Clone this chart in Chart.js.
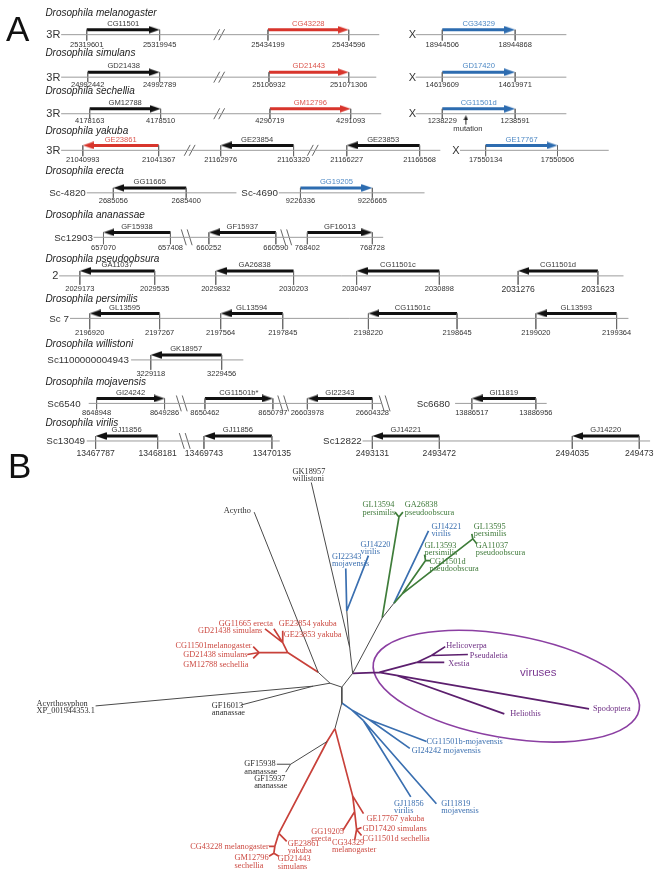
<!DOCTYPE html>
<html>
<head>
<meta charset="utf-8">
<script src="https://cdn.jsdelivr.net/npm/chart.js@4.4.1/dist/chart.umd.min.js"></script>
<style>
html,body{margin:0;padding:0;background:#ffffff;overflow:hidden;}
#wrap{position:relative;width:661px;height:877px;}
canvas{display:block;}
</style>
</head>
<body>
<div id="wrap"><canvas id="fig" width="661" height="877"></canvas></div>
<script>
// ================= DATA : panel A (gene maps) =================
const species = ['Drosophila melanogaster','Drosophila simulans','Drosophila sechellia','Drosophila yakuba','Drosophila erecta','Drosophila ananassae','Drosophila pseudoobsura','Drosophila persimilis','Drosophila willistoni','Drosophila mojavensis','Drosophila virilis'];

const scaffoldRow  = [0,0,1,1,2,2,3,3,4,4,5,6,7,8,9,9,10,10];
const scaffoldName = ['3R','X','3R','X','3R','X','3R','X','Sc-4820','Sc-4690','Sc12903','2','Sc 7','Sc1100000004943','Sc6540','Sc6680','Sc13049','Sc12822'];

const geneRow    = [0,0,0, 1,1,1, 2,2,2, 3,3,3,3, 4,4, 5,5,5, 6,6,6,6, 7,7,7,7, 8, 9,9,9,9, 10,10,10,10];
const geneName   = ['CG11501','CG43228','CG34329','GD21438','GD21443','GD17420','GM12788','GM12796','CG11501d','GE23861','GE23854','GE23853','GE17767','GG11665','GG19205','GF15938','GF15937','GF16013','GA11037','GA26838','CG11501c','CG11501d','GL13595','GL13594','CG11501c','GL13593','GK18957','GI24242','CG11501b*','GI22343','GI11819','GJ11856','GJ11856','GJ14221','GJ14220'];
const geneStart  = [25319601,25434199,18944506,24992442,25106932,14619609,4178163,4290719,1238229,21040993,21162976,21166227,17550134,2685056,9226336,657070,660252,768402,2029173,2029832,2030497,2031276,2196920,2197564,2198220,2199020,3229118,8648948,8650462,26603978,13886517,13467787,13469743,2493131,2494035];
const geneEnd    = [25319945,25434596,18944868,24992789,251071306,14619971,4178510,4291093,1238591,21041367,21163320,21166568,17550506,2685400,9226665,657408,660590,768728,2029535,2030203,2030898,2031623,2197267,2197845,2198645,2199364,3229456,8649286,8650797,26604328,13886956,13468181,13470135,2493472,249473];
const geneStrand = [1,1,1, 1,1,1, 1,1,1, -1,-1,-1,1, -1,1, -1,-1,1, -1,-1,-1,-1, -1,-1,-1,-1, -1, 1,1,-1,-1, -1,-1,-1,-1];
const geneGroup  = ['k','r','b','k','r','b','k','r','b','r','k','k','b','k','b','k','k','k','k','k','k','k','k','k','k','k','k','k','k','k','k','k','k','k','k'];

// ================= DATA : panel B (tree) =================
const treeLabelText  = ['GK18957\nwillistoni','Acyrtho','Acyrthosyphon\nXP_001944353.1','GF16013\nananassae','GF15938\nananassae','GF15937\nananassae',
  'GG11665 erecta','GD21438 simulans','GE23854 yakuba','GE23853 yakuba','CG11501melanogaster','GD21438 simulans','GM12788 sechellia',
  'CG43228 melanogaster','GE23861\nyakuba','GM12796\nsechellia','GD21443\nsimulans','GG19205\nerecta','CG34329\nmelanogaster','GE17767 yakuba','GD17420 simulans','CG11501d sechellia',
  'GL13594\npersimilis','GA26838\npseudoobscura','GL13595\npersimilis','GL13593\npersimilis','GA11037\npseudoobscura','CG11501d\npseudoobscura',
  'GJ14221\nvirilis','GJ14220\nvirilis','GI22343\nmojavensis','CG11501b-mojavensis','GI24242 mojavensis','GJ11856\nvirilis','GI11819\nmojavensis',
  'Helicoverpa','Pseudaletia','Xestia','Heliothis','Spodoptera'];
const treeLabelClade = ['g','g','g','g','g','g', 'r','r','r','r','r','r','r', 'r','r','r','r','r','r','r','r','r', 'e','e','e','e','e','e', 'b','b','b','b','b','b','b', 'p','p','p','p','p'];

// tree branches (unrooted layout, plot units) per clade colour
const branchGray = [[311,483,350,650],[350,650,353,676],[347,613,350,650],[353,676,383,620],[383,620,395,605],[353,676,342,690],[342,690,330,686],[330,686,318,675],[318,675,253,513],[330,686,313,689],[313,689,92,709],[313,689,240,708],[342,690,342,706],[342,706,335,732],[327,745,290,768],[290,768,276,768],[290,768,285,776]];
const branchRed = [[318,675,287,655],[287,655,258,655],[258,655,252,649],[258,655,246,657],[258,655,252,661],[287,655,282,645],[282,645,264,631],[282,645,273,631],[282,645,282,633],
  [335,732,327,745],[327,745,278,838],[278,838,286,846],[278,838,274,851],[274,851,268,851],[274,851,273,858],[273,858,268,861],[273,858,278,861],
  [335,732,353,800],[353,800,364,818],[353,800,355,816],[355,816,343,835],[355,816,357,834],[357,834,362,832],[357,834,362,840],[357,834,355,845]];
const branchGreen = [[383,620,400,518],[400,518,396,513],[400,518,404,513],[395,605,403,596],[403,596,475,540],[475,540,474,535],[475,540,479,545],[403,596,427,562],[427,562,426,556],[427,562,432,562]];
const branchBlue = [[347,613,346,570],[347,613,369,557],[395,605,430,532],[342,706,352,713],[352,713,370,723],[370,723,428,745],[370,723,411,752],[352,713,364,724],[364,724,412,801],[364,724,438,808]];
const branchPurple = [[353,676,380,675],[380,675,418,665],[418,665,446,665],[418,665,433,658],[433,658,447,649],[433,658,470,657],[380,675,593,712],[397,678,507,717]];

// ================= LAYOUT (positions, not data) =================
const rowSpeciesY = [8, 49, 87, 128, 168, 213, 257, 298, 343, 382, 423];
const rowLineY    = [30, 73, 110, 147, 190, 235, 274, 317, 359, 403, 441];
const rowNumDy    = [10, 7.5, 7.5, 10, 8, 11, 13, 15, 14, 10, 12];
const scaffoldLabelX = [42,410, 42,410, 42,410, 42,454, 45,240, 50, 48, 45, 43, 43,418, 42,323];
const scaffoldX0 = [57,417, 57,417, 57,417, 57,462, 83,278, 90, 55, 66, 128, 85,457, 83,363];
const scaffoldX1 = [380,570, 377,570, 382,570, 442,613, 235,426, 384, 628, 633, 242, 382,550, 279,655];
const geneX0 = [83,267,444, 84,268,444, 86,269,444, 79,219,347,488, 110,300, 100,207,307, 76,214,357,521, 86,219,369,539, 148, 93,203,307,474, 92,202,373,576];
const geneX1 = [157,349,518, 157,349,518, 158,351,518, 156,293,421,561, 184,373, 168,275,373, 152,293,441,602, 157,282,459,621, 220, 162,272,373,539, 155,271,441,644];
const bigNumberGenes = [21,31,32,33,34];
const breakRow  = [0,1,2,3,3,5,5,9,9,9,10];
const breakX    = [220,220,220,190,315,187,288,182,285,388,185];
const breakKind = ['/','/','/','/','/','\\','\\','\\','\\','\\','\\'];
const mutationX = 468;
const treeLabelX = [292,222,32,210,243,253, 217,196,278,283,173,181,181, 188,287,233,277,311,332,367,363,363, 363,406,476,426,478,431, 433,361,332,428,413,395,443, 448,472,450,513,597];
const treeLabelY = [472,512,707,709,768,783, 626,633,626,637,648,657,667, 852,848,863,864,836,847,823,833,843, 506,506,528,547,547,563, 528,546,558,745,754,808,808, 648,658,666,717,712];
const ellipse = {cx:509, cy:689, rx:137, ry:52, rot:10};

// ================= STYLE =================
const arrowCol = {k:'#111111', r:'#d8352c', b:'#2d6cb0'};
const labelCol = {k:'#3a3a3a', r:'#dc564e', b:'#4d88c4'};
const cladeText = {g:'#2e2e2e', r:'#cc4a42', e:'#3f7a3a', b:'#3c70b0', p:'#6e2f84'};
const SANS = '"Liberation Sans", Arial, sans-serif';
const SERIF = '"Liberation Serif", "Times New Roman", serif';

// ================= BUILD =================
function segData(list){ const d=[]; list.forEach(s=>{ d.push({x:s[0],y:s[1]}); d.push({x:s[2],y:s[3]}); d.push({x:s[2],y:null}); }); return d; }
function lineDs(list,color,width){ return {data:segData(list), showLine:true, spanGaps:false, borderColor:color, borderWidth:width, pointRadius:0, fill:false, borderCapStyle:'butt'}; }
function headImg(color,w,h){ const c=document.createElement('canvas'); c.width=w; c.height=h; const g=c.getContext('2d'); g.fillStyle=color; g.beginPath(); g.moveTo(0,0.3); g.lineTo(w,h/2); g.lineTo(0,h-0.3); g.closePath(); g.fill(); return c; }
function arrowY(r){ return rowLineY[r]-5; }

const chromSegs = scaffoldRow.map((r,i)=>[scaffoldX0[i],rowLineY[r],scaffoldX1[i],rowLineY[r]]);
const tickSegs = [];
geneRow.forEach((r,i)=>{ const a=arrowY(r), b=rowLineY[r]+Math.max(rowNumDy[r]-4,5); tickSegs.push([geneX0[i],a,geneX0[i],b]); tickSegs.push([geneX1[i],a,geneX1[i],b]); });
const breakSegs = [];
breakRow.forEach((r,i)=>{ const y=rowLineY[r], x=breakX[i];
  if(breakKind[i]==='/'){ [-5,0].forEach(o=>breakSegs.push([x+o-3,y+5.5,x+o+3,y-5.5])); }
  else { [-5.5,0.5].forEach(o=>breakSegs.push([x+o-2.5,y-8,x+o+2.5,y+8])); } });

const datasets = [];
datasets.push(lineDs(chromSegs,'#9c9c9c',1));
datasets.push(lineDs(tickSegs,'#666666',0.8));
datasets.push(lineDs(breakSegs,'#555555',0.9));
['k','r','b'].forEach(g=>{
  const body=[], heads=[], rots=[];
  geneRow.forEach((r,i)=>{ if(geneGroup[i]!==g) return; const y=arrowY(r);
    if(geneStrand[i]>0){ body.push([geneX0[i],y,geneX1[i]-9,y]); heads.push({x:geneX1[i]-5.5,y:y}); rots.push(0); }
    else { body.push([geneX0[i]+9,y,geneX1[i],y]); heads.push({x:geneX0[i]+5.5,y:y}); rots.push(180); } });
  datasets.push(lineDs(body,arrowCol[g],3));
  datasets.push({data:heads, showLine:false, pointStyle:headImg(arrowCol[g],11,8), pointRadius:5, pointRotation:rots, pointBorderWidth:0});
});
// mutation marker
datasets.push(lineDs([[mutationX,121,mutationX,115]],'#222222',1));
datasets.push({data:[{x:mutationX,y:114}], showLine:false, pointStyle:headImg('#222222',5,5), pointRadius:3, pointRotation:[-90], pointBorderWidth:0});
// tree
datasets.push(lineDs(branchGray,'#4a4a4a',1));
datasets.push(lineDs(branchRed,'#c8413a',1.7));
datasets.push(lineDs(branchGreen,'#3f7d3a',1.7));
datasets.push(lineDs(branchBlue,'#3a6fb0',1.7));
datasets.push(lineDs(branchPurple,'#5c1f6e',1.7));

const drawPlugin = {
  id:'figureText',
  beforeDatasetsDraw(chart){
    const ctx=chart.ctx, xs=chart.scales.x, ys=chart.scales.y;
    const cx=xs.getPixelForValue(ellipse.cx), cy=ys.getPixelForValue(ellipse.cy);
    const rx=Math.abs(xs.getPixelForValue(ellipse.cx+ellipse.rx)-cx), ry=Math.abs(ys.getPixelForValue(ellipse.cy+ellipse.ry)-cy);
    ctx.save(); ctx.strokeStyle='#8b3fa2'; ctx.lineWidth=1.6; ctx.beginPath(); ctx.ellipse(cx,cy,rx,ry,ellipse.rot*Math.PI/180,0,Math.PI*2); ctx.stroke(); ctx.restore();
  },
  afterDatasetsDraw(chart){
    const ctx=chart.ctx, xs=chart.scales.x, ys=chart.scales.y;
    const px=v=>xs.getPixelForValue(v), py=v=>ys.getPixelForValue(v);
    function t(str,x,y,font,color,align,base){ ctx.font=font; ctx.fillStyle=color; ctx.textAlign=align||'left'; ctx.textBaseline=base||'middle'; ctx.fillText(str,px(x),py(y)); }
    ctx.save();
    t('A',1,36,'35px '+SANS,'#111','left','alphabetic');
    t('B',3,478,'35px '+SANS,'#111','left','alphabetic');
    species.forEach((s,r)=>t(s,41,rowSpeciesY[r],'italic 10px '+SANS,'#222'));
    scaffoldName.forEach((s,i)=>{ const r=scaffoldRow[i]; const f=(s==='3R'||s==='X'||s==='2')?'11px ':'9.8px '; t(s,scaffoldLabelX[i],rowLineY[r]+0.5,f+SANS,'#333'); });
    geneName.forEach((s,i)=>{ const r=geneRow[i], y=rowLineY[r];
      t(s,(geneX0[i]+geneX1[i])/2,y-11,'7.6px '+SANS,labelCol[geneGroup[i]],'center');
      const big=bigNumberGenes.includes(i); const f=(big?'8.6px ':'7.5px ')+SANS; const dy=rowNumDy[r]+(big?1:0);
      t(String(geneStart[i]),geneX0[i],y+dy,f,'#333','center');
      t(String(geneEnd[i]),geneX1[i],y+dy,f,'#333','center');
    });
    t('mutation',mutationX+2,125.5,'7.6px '+SANS,'#333','center');
    treeLabelText.forEach((s,i)=>{ s.split('\n').forEach((ln,k)=>t(ln,treeLabelX[i],treeLabelY[i]+k*7.3,'8.3px '+SERIF,cladeText[treeLabelClade[i]])); });
    t('viruses',523,676,'11.5px '+SANS,'#7b3a92');
    ctx.restore();
  }
};

new Chart(document.getElementById('fig'),{
  type:'scatter',
  data:{datasets:datasets},
  options:{
    responsive:false, devicePixelRatio:1, animation:false, events:[],
    layout:{padding:0},
    scales:{ x:{type:'linear',min:0,max:661,display:false}, y:{type:'linear',min:0,max:877,reverse:true,display:false} },
    plugins:{legend:{display:false}, tooltip:{enabled:false}},
    elements:{point:{hoverRadius:0}}
  },
  plugins:[drawPlugin]
});
</script>
</body>
</html>
